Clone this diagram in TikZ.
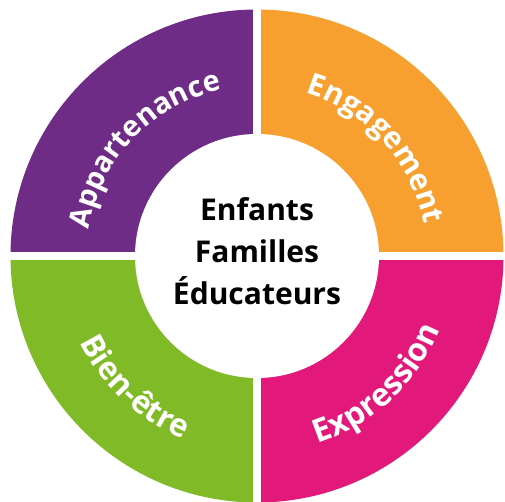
\documentclass[tikz,border=0pt]{standalone}
\usepackage{fontspec}
\setmainfont{Open Sans}
\usetikzlibrary{decorations.text}
\definecolor{appviolet}{HTML}{6E2C87}
\definecolor{engorange}{HTML}{F7A02F}
\definecolor{bienvert}{HTML}{80BA27}
\definecolor{exprose}{HTML}{E2187A}
\tikzset{
  gap/.style     ={draw=white,line width=8pt},
  ringtext/.style 2 args={decorate,decoration={text along path,text align=center,
                   text={|\bfseries\fontsize{#2}{30}\selectfont\color{white}|#1}}}
}

\begin{document}
\begin{tikzpicture}
  \useasboundingbox[fill=white] (-257pt,-245pt) rectangle (248pt,256pt);
  % quarters of the ring
  \fill[appviolet] (0,0) -- (180:246.5pt) arc[start angle=180,end angle=90,radius=246.5pt] -- cycle;
  \fill[engorange] (0,0) -- (90:246.5pt) arc[start angle=90,end angle=0,radius=246.5pt] -- cycle;
  \fill[exprose] (0,0) -- (0:246.5pt) arc[start angle=0,end angle=-90,radius=246.5pt] -- cycle;
  \fill[bienvert] (0,0) -- (270:246.5pt) arc[start angle=270,end angle=180,radius=246.5pt] -- cycle;
  \draw[gap] (-250pt,0) -- (250pt,0);
  \draw[gap] (0,-250pt) -- (0,250pt);
  \fill[white] (0,0) circle[radius=122pt];
  % labels on the ring
  \path[ringtext={Appartenance}{29}] (181.5:170pt) arc[start angle=181.5,end angle=91.5,radius=170pt];
  \path[ringtext={Engagement}{30}] (87:170pt) arc[start angle=87,end angle=-3,radius=170pt];
  \path[ringtext={Bien-être}{31.5}] (182:197pt) arc[start angle=182,end angle=272,radius=197pt];
  \path[ringtext={Expression}{32}] (268:197pt) arc[start angle=268,end angle=358,radius=197pt];
  \node[align=center,font=\bfseries\fontsize{30}{42}\selectfont] (centre) at (0,5pt)
    {Enfants\\Familles\\Éducateurs};
\end{tikzpicture}
\end{document}
